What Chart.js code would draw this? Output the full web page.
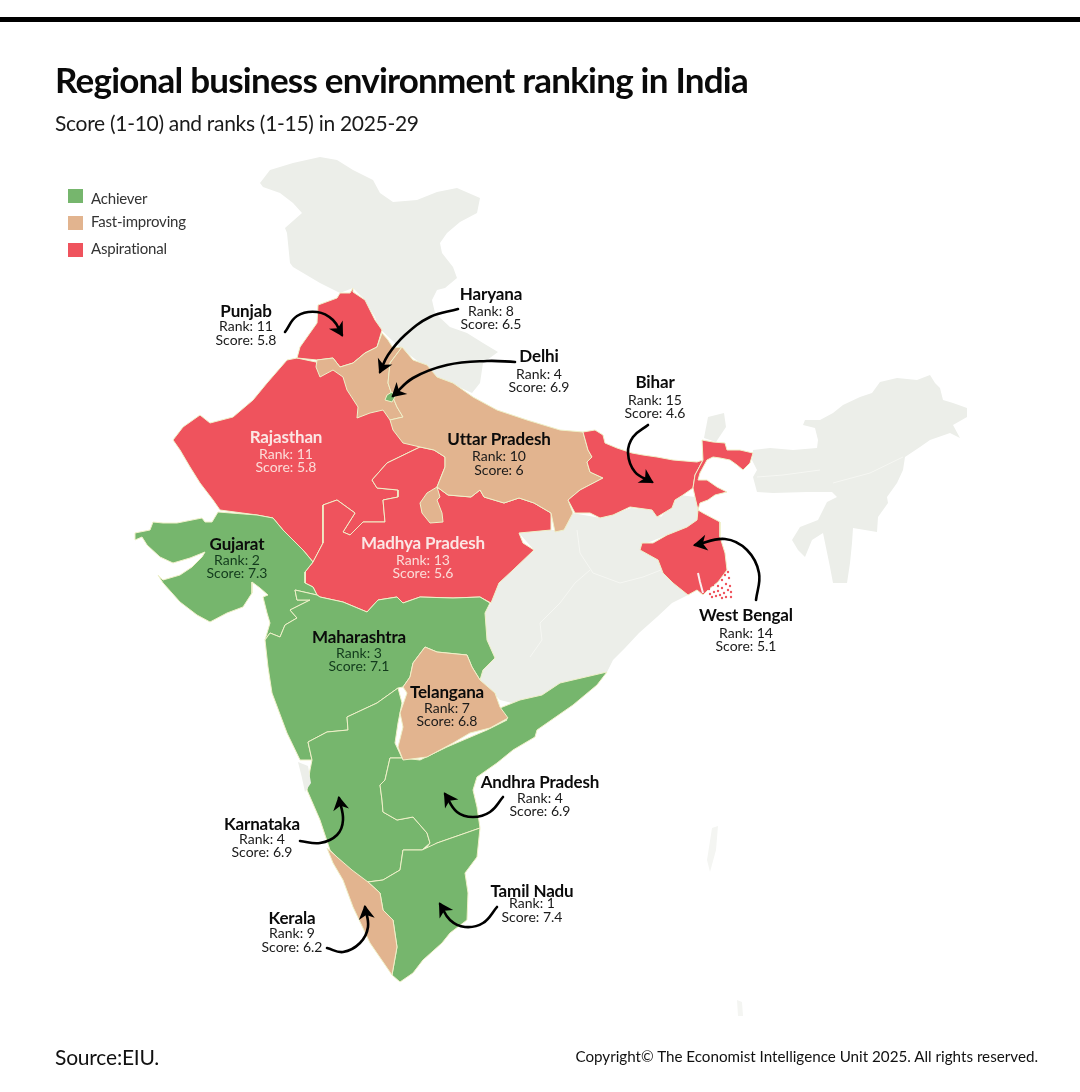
<!DOCTYPE html>
<html>
<head>
<meta charset="utf-8"/>
<title>Regional business environment ranking in India</title>
<script src="https://cdn.jsdelivr.net/npm/chart.js@4/dist/chart.umd.min.js"></script>
<style>
  html, body { margin: 0; padding: 0; background: #fff; }
  #page { position: relative; width: 1080px; height: 1092px; overflow: hidden; font-family: Lato, sans-serif; color: #111; }
  #mapa { position: absolute; left: 0; top: 0; }
  .bar { position: absolute; left: 0; top: 17px; width: 1080px; height: 5px; background: #000; }
  .txt { position: absolute; white-space: nowrap; line-height: 1; }
  #titulo { left: 55px; top: 62px; font-size: 35px; font-weight: 700; letter-spacing: -0.78px; color: #0a0a0a; margin: 0; }
  #subtitulo { left: 55px; top: 112px; font-size: 21px; letter-spacing: -0.3px; color: #1a1a1a; }
  #fuente { left: 55px; top: 1046px; font-size: 21px; letter-spacing: -0.2px; }
  #copy { right: 42px; top: 1049px; font-size: 15.2px; letter-spacing: 0; }
  .sq { position: absolute; left: 68px; width: 15px; height: 14px; }
  .ley { left: 91px; font-size: 15px; color: #333; letter-spacing: -0.2px; }
</style>
</head>
<body>
<div id="page">
  <canvas id="mapa" width="1080" height="1092"></canvas>
  <div class="bar"></div>
  <h1 class="txt" id="titulo">Regional business environment ranking in India</h1>
  <div class="txt" id="subtitulo">Score (1-10) and ranks (1-15) in 2025-29</div>
  <div class="sq" style="top:189px;background:#76b66d"></div><div class="txt ley" style="top:191px">Achiever</div>
  <div class="sq" style="top:216px;background:#e2b48f"></div><div class="txt ley" style="top:214px">Fast-improving</div>
  <div class="sq" style="top:243px;background:#ef535d"></div><div class="txt ley" style="top:241px">Aspirational</div>
  <div class="txt" id="fuente">Source:EIU.</div>
  <div class="txt" id="copy">Copyright© The Economist Intelligence Unit 2025. All rights reserved.</div>
</div>

<script>
// ranking data
var estados = ["Punjab","Haryana","Delhi","Bihar","Uttar Pradesh","Rajasthan","Madhya Pradesh","Gujarat","Maharashtra","Telangana","West Bengal","Andhra Pradesh","Karnataka","Tamil Nadu","Kerala"]
var ranks   = [11,8,4,15,10,11,13,2,3,7,14,4,4,1,9]
var scores  = [5.8,6.5,6.9,4.6,6,5.8,5.6,7.3,7.1,6.8,5.1,6.9,6.9,7.4,6.2]

// map outlines, in map units
var norte = [[260,183],[270,170],[293,163],[320,157],[337,160],[353,170],[373,180],[380,193],[393,202],[417,200],[437,192],[457,188],[480,198],[477,213],[460,222],[447,233],[440,243],[442,253],[453,267],[457,278],[445,288],[437,290],[432,300],[435,313],[450,327],[467,333],[483,343],[498,352],[483,363],[480,383],[472,393],[450,383],[435,377],[423,365],[407,353],[397,345],[378,327],[375,317],[363,298],[353,288],[340,293],[320,283],[293,267],[290,263],[287,233],[285,228],[302,213],[293,203],[280,193],[263,187]]
var centro = [[491,603],[499,583],[534,550],[519,533],[551,530],[564,530],[572,513],[601,518],[631,508],[654,510],[661,517],[680,495],[695,497],[698,510],[697,520],[687,527],[667,535],[642,545],[658,560],[663,573],[673,583],[688,595],[672,603],[657,617],[639,633],[625,648],[613,660],[607,672],[560,690],[520,705],[500,700],[480,680],[483,670],[495,658],[487,640],[485,613]]
var noreste = [[753,450],[770,448],[793,450],[817,448],[818,440],[815,428],[803,425],[805,420],[820,420],[833,413],[843,405],[860,397],[872,393],[880,382],[897,378],[917,380],[930,375],[935,383],[940,388],[943,400],[953,403],[967,408],[967,417],[953,425],[960,438],[950,433],[930,440],[920,447],[905,457],[903,470],[897,483],[887,497],[888,503],[878,517],[877,532],[853,528],[852,543],[850,563],[847,583],[833,583],[830,567],[823,533],[812,540],[805,557],[798,550],[792,540],[800,527],[818,520],[827,502],[837,497],[832,492],[807,492],[773,493],[757,492],[753,477],[757,470],[752,460]]
var sikkim = [[704,438],[708,417],[724,413],[726,427],[716,442]]
var goa = [[298,762],[308,766],[311,783],[305,792],[302,778]]
var andaman1 = [[712,828],[718,826],[716,850],[710,872],[707,860]]
var andaman2 = [[737,1000],[742,1002],[743,1016],[738,1016]]

var rajasthan = [[297,358],[287,360],[267,383],[253,400],[233,417],[210,423],[200,415],[183,427],[173,440],[180,450],[190,467],[200,483],[213,500],[220,510],[257,515],[273,518],[283,530],[293,540],[303,550],[313,562],[323,543],[323,505],[337,500],[355,513],[343,532],[350,535],[363,522],[385,522],[383,500],[398,497],[398,490],[377,488],[372,480],[387,463],[420,447],[410,430],[395,415],[360,385],[330,365]]
var madhyaPradesh = [[305,572],[305,583],[313,587],[317,595],[320,597],[343,602],[367,612],[378,600],[397,597],[403,603],[420,597],[453,598],[480,597],[491,603],[499,583],[513,570],[534,550],[523,543],[519,533],[551,530],[551,513],[534,503],[519,498],[504,503],[484,497],[480,490],[471,497],[448,495],[437,487],[445,467],[445,457],[434,450],[420,447],[387,463],[372,480],[377,488],[398,490],[398,497],[383,500],[385,522],[363,522],[350,535],[343,532],[355,513],[337,500],[323,505],[323,543],[313,562]]
var punjab = [[353,288],[350,293],[340,293],[337,298],[318,305],[317,323],[300,347],[297,358],[317,360],[333,358],[340,367],[353,363],[365,353],[377,347],[382,330],[375,320],[365,300],[353,292]]
var haryana = [[317,360],[333,358],[340,367],[353,363],[365,353],[377,347],[382,333],[388,340],[393,348],[402,347],[390,363],[388,383],[392,395],[397,407],[403,417],[390,420],[383,410],[370,413],[357,418],[358,407],[347,390],[343,377],[333,370],[320,377],[316,367]]
var uttarPradesh = [[402,347],[413,360],[427,365],[437,377],[453,383],[473,397],[497,410],[527,420],[560,430],[583,432],[588,450],[592,457],[587,462],[590,472],[603,478],[580,490],[568,500],[573,513],[564,530],[555,532],[551,513],[534,503],[519,498],[504,503],[484,497],[480,490],[471,497],[448,495],[437,487],[445,467],[445,457],[434,450],[420,447],[403,443],[393,430],[390,420],[403,417],[397,407],[392,395],[388,383],[390,363]]
var lalitpur = [[420,503],[427,493],[437,487],[440,497],[437,500],[442,513],[443,522],[430,523],[422,513]]
var delhi = [[387,395],[392,392],[395,397],[392,402],[385,400]]
var bihar = [[583,432],[595,430],[603,435],[605,443],[617,448],[632,453],[643,455],[657,457],[673,460],[697,462],[703,460],[695,475],[693,488],[683,495],[675,500],[672,508],[657,517],[652,510],[630,507],[613,515],[600,518],[590,513],[575,513],[568,500],[580,490],[603,478],[590,472],[587,462],[592,457],[588,450]]
var bengala = [[702,440],[713,442],[725,443],[727,450],[740,450],[753,453],[750,463],[743,470],[737,465],[730,460],[720,458],[713,457],[707,460],[700,473],[698,480],[707,480],[717,487],[727,492],[715,495],[708,500],[700,503],[698,510],[703,513],[720,522],[720,537],[725,553],[727,570],[718,582],[708,590],[703,595],[697,590],[688,595],[673,583],[663,573],[658,560],[640,550],[642,543],[653,543],[667,535],[687,527],[697,520],[698,510],[695,497],[693,488],[695,475],[703,460]]
var gujarat = [[135,533],[150,530],[153,522],[163,523],[177,523],[202,518],[205,522],[212,522],[218,512],[257,515],[273,518],[283,530],[293,540],[303,550],[313,562],[305,572],[305,583],[313,587],[317,595],[295,590],[297,600],[310,600],[290,610],[297,618],[285,625],[280,637],[270,633],[265,640],[270,623],[267,613],[263,597],[268,595],[260,588],[252,582],[252,593],[243,607],[227,613],[210,622],[197,615],[180,602],[163,583],[158,575],[163,580],[180,575],[192,567],[202,557],[205,552],[190,558],[173,563],[160,557],[147,545],[142,537],[135,540]]
var maharashtra = [[265,640],[268,667],[272,693],[287,733],[300,760],[312,760],[308,742],[327,732],[348,730],[347,717],[377,703],[398,688],[403,687],[410,677],[413,663],[425,647],[437,652],[467,655],[472,667],[480,680],[483,670],[495,658],[487,640],[485,613],[490,603],[480,597],[453,598],[420,597],[403,603],[397,597],[378,600],[367,612],[343,602],[320,597],[317,595],[295,590],[297,600],[310,600],[290,610],[297,618],[285,625],[280,637],[270,633]]
var telangana = [[425,647],[437,652],[467,655],[472,667],[480,680],[495,693],[500,707],[508,718],[490,728],[470,733],[453,743],[427,757],[403,760],[398,747],[403,727],[400,713],[407,693],[403,687],[410,677],[413,663]]
var karnataka = [[398,688],[402,703],[398,723],[395,743],[402,758],[390,758],[385,780],[380,785],[382,800],[383,812],[397,820],[413,817],[427,833],[430,843],[422,850],[403,850],[400,870],[383,880],[367,882],[350,870],[330,850],[320,820],[307,790],[310,770],[312,760],[308,742],[327,732],[348,730],[347,717],[377,703]]
var andhra = [[390,758],[402,758],[420,760],[447,747],[487,730],[507,720],[500,708],[520,700],[542,695],[560,683],[607,672],[597,685],[573,705],[537,730],[535,737],[513,750],[497,763],[477,777],[473,790],[477,807],[480,828],[460,835],[437,843],[423,852],[430,843],[427,833],[413,817],[397,820],[383,812],[382,800],[380,785],[385,780]]
var tamilNadu = [[480,828],[477,857],[465,873],[468,893],[467,920],[450,933],[442,943],[423,960],[413,973],[400,982],[392,975],[397,947],[393,920],[383,910],[380,893],[368,882],[383,880],[400,870],[403,850],[422,850],[437,843],[460,835]]
var kerala = [[327,848],[337,857],[352,870],[368,882],[380,893],[383,910],[393,920],[397,947],[392,975],[370,943],[353,907],[343,880],[333,863]]

// faint inner borders of the unranked states
var lineaJharkhand = [[577,530],[580,553],[593,573],[620,583],[643,577],[661,570]]
var lineaOdisha = [[590,570],[575,583],[560,603],[540,623],[542,640],[530,657]]
var lineaAssam = [[757,477],[783,475],[820,470]]
var lineaNagaland = [[833,483],[870,473],[903,457]]
var rioHooghly = [[698,573],[700,582],[703,593]]
var islasSundarbans = [[709,589],[713,585],[718,586],[722,580],[725,575],[728,572],[710,594],[714,592],[718,591],[722,588],[726,584],[729,578],[730,586],[712,597],[716,596],[720,595],[724,593],[728,590],[731,592],[726,597],[722,598],[731,597]]

// callout arrows, last point is the tip
var flechaPunjab  = [[285,332],[297,316],[317,312],[333,320],[342,335]]
var flechaHaryana = [[458,309],[430,317],[405,335],[388,355],[380,372]]
var flechaDelhi   = [[515,362],[487,361],[447,365],[413,378],[393,396]]
var flechaBihar   = [[648,425],[633,437],[628,453],[635,472],[652,482]]
var flechaBengal  = [[756,600],[759,573],[747,550],[725,539],[695,545]]
var flechaAndhra  = [[503,797],[490,812],[473,817],[457,812],[445,794]]
var flechaKarn    = [[300,841],[320,843],[337,835],[343,820],[339,798]]
var flechaTamil   = [[497,907],[483,923],[465,927],[450,920],[440,904]]
var flechaKerala  = [[327,948],[343,952],[360,943],[368,927],[365,907]]

// where each label block sits: x, then name / rank / score rows
var etiquetaX = [246,491,539,655,499,286,423,237,359,447,746,540,262,532,292]
var etiquetaY = [[312,326,340],[295,311,324],[357,374,387],[383,400,413],[440,456,470],[438,454,467],[544,560,573],[545,560,573],[638,653,666],[693,708,721],[616,633,646],[783,798,811],[825,839,852],[892,903,917],[919,933,947]]
var etiquetaClara = ["Rajasthan","Madhya Pradesh"]
var etiquetaVerde = ["Gujarat","Maharashtra"]

var VERDE = "#76b66d", TAN = "#e2b48f", ROJO = "#ef535d", GRIS = "#eceee9", BORDE = "#eff0c8", ISLA = "#f4f5f2"

// painted in this order, first one at the bottom
var capas = [
    [norte, GRIS], [centro, GRIS], [noreste, GRIS], [sikkim, GRIS], [andaman1, ISLA], [andaman2, ISLA],
    [rajasthan, ROJO], [madhyaPradesh, ROJO], [punjab, ROJO], [haryana, TAN], [uttarPradesh, TAN], [lalitpur, TAN],
    [bihar, ROJO], [bengala, ROJO], [gujarat, VERDE], [maharashtra, VERDE], [karnataka, VERDE], [andhra, VERDE],
    [tamilNadu, VERDE], [kerala, TAN], [telangana, TAN], [goa, GRIS], [delhi, VERDE]
]
var lineasSuaves = [lineaJharkhand, lineaOdisha, lineaAssam, lineaNagaland]
var flechas = [flechaPunjab, flechaHaryana, flechaDelhi, flechaBihar, flechaBengal, flechaAndhra, flechaKarn, flechaTamil, flechaKerala]

var aPuntos = (lista) => lista.map((p) => ({x: p[0], y: p[1]}))

var datasets = []
capas.forEach((capa, i) => {
    var color = capa[1]
    var sinBorde = color == GRIS || color == ISLA
    datasets.push({
        data: aPuntos(capa[0].concat([capa[0][0]])),
        showLine: true,
        fill: "shape",
        backgroundColor: color,
        borderColor: sinBorde ? color : BORDE,
        borderWidth: sinBorde ? 0 : 1,
        pointRadius: 0,
        tension: 0,
        order: 100 - i
    })
})
lineasSuaves.forEach((l) => {
    datasets.push({ data: aPuntos(l), showLine: true, fill: false, borderColor: "#f6f7f3", borderWidth: 1, pointRadius: 0, order: 90 })
})
datasets.push({ data: aPuntos(rioHooghly), showLine: true, fill: false, borderColor: "#fbeeee", borderWidth: 2, pointRadius: 0, order: 5 })
datasets.push({ data: aPuntos(islasSundarbans), showLine: false, backgroundColor: ROJO, borderWidth: 0, pointRadius: 1.2, order: 5 })
flechas.forEach((f) => {
    datasets.push({
        data: aPuntos(f),
        showLine: true,
        fill: false,
        borderColor: "#000",
        borderWidth: 2.6,
        borderCapStyle: "round",
        pointRadius: 0,
        tension: 0.4,
        order: 1
    })
})

// arrow heads and the state labels
var rotulos = {
    id: "rotulos",
    afterDatasetsDraw: (chart) => {
        var ctx = chart.ctx
        var sx = chart.scales.x
        var sy = chart.scales.y

        flechas.forEach((f) => {
            var n = f.length
            var px = sx.getPixelForValue(f[n-1][0])
            var py = sy.getPixelForValue(f[n-1][1])
            var qx = sx.getPixelForValue(f[n-2][0])
            var qy = sy.getPixelForValue(f[n-2][1])
            var ang = Math.atan2(py - qy, px - qx)
            ctx.save()
            ctx.translate(px, py)
            ctx.rotate(ang)
            ctx.fillStyle = "#000"
            ctx.beginPath()
            ctx.moveTo(2, 0)
            ctx.lineTo(-12, -8)
            ctx.lineTo(-8, 0)
            ctx.lineTo(-12, 8)
            ctx.closePath()
            ctx.fill()
            ctx.restore()
        })

        ctx.save()
        ctx.textAlign = "center"
        ctx.textBaseline = "middle"
        estados.forEach((nombre, i) => {
            var x = sx.getPixelForValue(etiquetaX[i])
            var filas = etiquetaY[i]
            var clara = etiquetaClara.includes(nombre)
            var verde = etiquetaVerde.includes(nombre)
            ctx.fillStyle = clara ? "#fbe6e4" : "#0b0b0b"
            ctx.font = "700 17px Lato"
            ctx.letterSpacing = "-0.15px"
            ctx.fillText(nombre, x, sy.getPixelForValue(filas[0]))
            ctx.fillStyle = clara ? "#fbdcd8" : (verde ? "#123a1c" : "#1a1a1a")
            ctx.font = "400 14px Lato"
            ctx.letterSpacing = "0px"
            ctx.fillText("Rank: " + ranks[i], x, sy.getPixelForValue(filas[1]))
            ctx.fillText("Score: " + scores[i], x, sy.getPixelForValue(filas[2]))
        })
        ctx.restore()
    }
}

var contenedor = document.getElementById("mapa")
var grafica = new Chart(contenedor, {
    type: "scatter",
    data: { datasets: datasets },
    options: {
        responsive: false,
        animation: false,
        devicePixelRatio: 1,
        layout: { padding: 0, autoPadding: false },
        plugins: { legend: { display: false }, tooltip: { enabled: false } },
        scales: {
            x: { type: "linear", min: 0, max: 1080, display: false },
            y: { type: "linear", min: 0, max: 1092, reverse: true, display: false }
        }
    },
    plugins: [rotulos]
})
</script>
</body>
</html>
